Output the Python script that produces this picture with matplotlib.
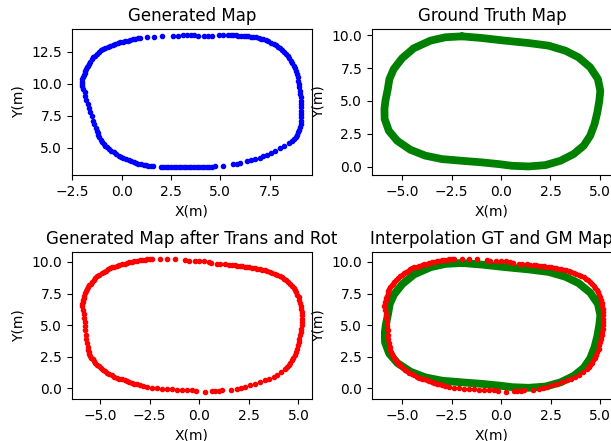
import numpy as np
import matplotlib
matplotlib.use("Agg")
import matplotlib.pyplot as plt

# Generated map (blue)
gm_x = [0.94, 1.28, 1.66, 2.04, 2.59, 2.88, 3.10, 3.30, 3.51, 3.69, 3.89, 4.15, 4.37, 4.60, 4.91, 5.16, 5.38,
        5.52, 5.67, 5.80, 5.92, 6.05, 6.18, 6.30, 6.43, 6.55, 6.68, 6.81, 6.94, 7.06, 7.19, 7.31, 7.44, 7.57,
        7.70, 7.81, 7.92, 8.02, 8.12, 8.22, 8.32, 8.41, 8.49, 8.58, 8.66, 8.73, 8.79, 8.84, 8.89, 8.93, 8.96,
        8.98, 8.99, 9.02, 9.05, 9.07, 9.08, 9.09, 9.10, 9.10, 9.10, 9.09, 9.08, 9.07, 9.05, 9.01, 8.96, 8.90,
        8.83, 8.75, 8.66,
        8.46, 8.25, 8.03, 7.78, 7.58, 7.36, 7.19, 7.02, 6.77, 6.56, 6.34, 6.01, 5.84, 5.62, 5.16,
        4.71, 4.58, 4.45, 4.32, 4.19, 4.06, 3.93, 3.80, 3.67, 3.54, 3.41, 3.28, 3.15, 3.02, 2.89, 2.76, 2.63,
        2.50, 2.37, 2.24, 2.12, 2.00,
        1.61, 1.48, 1.36, 1.23, 1.11, 0.98, 0.85, 0.72, 0.60, 0.47, 0.35, 0.22, 0.09, -0.04, -0.16, -0.29,
        -0.41, -0.52, -0.63, -0.74, -0.84, -0.92, -1.00, -1.07, -1.14, -1.18, -1.22, -1.27, -1.31, -1.38,
        -1.43, -1.51, -1.60, -1.65, -1.71, -1.80, -1.85, -1.88, -1.98, -2.02, -2.02, -2.02, -1.99, -1.97,
        -1.92, -1.88, -1.85, -1.82, -1.76, -1.71, -1.66, -1.60, -1.52, -1.43, -1.35, -1.26, -1.15, -1.04,
        -0.94, -0.84, -0.71, -0.58, -0.46, -0.33, -0.20, -0.08, 0.05, 0.18, 0.30, 0.43, 0.55, 0.68, 0.81]
gm_y = [13.57, 13.62, 13.67, 13.70, 13.75, 13.75, 13.78, 13.78, 13.78, 13.78, 13.75, 13.75, 13.75, 13.75, 13.78, 13.78, 13.78,
        13.78, 13.78, 13.77, 13.75, 13.74, 13.72, 13.71, 13.70, 13.68, 13.65, 13.61, 13.57, 13.52, 13.46, 13.39, 13.31, 13.21,
        13.10, 13.00, 12.89, 12.78, 12.66, 12.50, 12.32, 12.15, 11.98, 11.80, 11.61, 11.40, 11.20, 10.98, 10.75, 10.50, 10.23,
        9.97, 9.71, 9.45, 9.19, 8.93, 8.67, 8.41, 8.15, 7.89, 7.63, 7.37, 7.11, 6.85, 6.59, 6.40, 6.20, 6.00,
        5.81, 5.66, 5.52,
        5.36, 5.16, 4.95, 4.74, 4.56, 4.43, 4.32, 4.22, 4.11, 4.01, 3.93, 3.80, 3.75, 3.70, 3.59,
        3.54, 3.52, 3.51, 3.50, 3.49, 3.49, 3.49, 3.49, 3.50, 3.51, 3.51, 3.50, 3.49, 3.49, 3.49, 3.49, 3.49,
        3.49, 3.49, 3.50, 3.50, 3.51,
        3.54, 3.56, 3.59, 3.63, 3.67, 3.71, 3.75, 3.81, 3.88, 3.94, 4.01, 4.09, 4.17, 4.27, 4.37, 4.50,
        4.63, 4.76, 4.90, 5.03, 5.16, 5.31, 5.47, 5.64, 5.81, 5.98, 6.15, 6.33, 6.51, 6.85,
        7.11, 7.45, 7.76, 8.07, 8.41, 8.75, 9.06, 9.32, 9.58, 9.84, 10.00, 10.16, 10.33, 10.49,
        10.66, 10.83, 10.99, 11.15, 11.28, 11.41, 11.57, 11.72, 11.89, 12.06, 12.19, 12.32, 12.46, 12.60,
        12.70, 12.79, 12.88, 12.97, 13.05, 13.12, 13.18, 13.23, 13.28, 13.33, 13.37, 13.41, 13.45, 13.49, 13.53]

# Ground truth map (green), centre line of the band
gt_x = [-1.97, -0.96, 0.22, 1.40, 2.41, 3.25, 3.92, 4.51, 4.90, 5.02, 4.97, 4.87, 4.73, 4.51, 4.18, 3.67,
        3.00, 2.24, 1.40, 0.56, -0.12, -0.96, -1.97, -2.98, -3.82, -4.58, -5.25, -5.67, -5.88, -5.89,
        -5.84, -5.72, -5.64, -5.42, -5.00, -4.41, -3.57, -2.81, -1.97]
gt_y = [9.92, 9.79, 9.59, 9.41, 9.21, 8.83, 8.32, 7.56, 6.67, 5.78, 5.02, 4.13, 3.25, 2.36, 1.60, 0.96,
        0.45, 0.12, 0.02, 0.07, 0.20, 0.33, 0.45, 0.58, 0.84, 1.29, 1.98, 2.74, 3.63, 4.39,
        5.02, 5.91, 6.67, 7.43, 8.25, 9.01, 9.59, 9.85, 9.92]

# Generated map after translation and rotation (red)
tr_x = [-5.92, -5.90, -5.88, -5.85, -5.83, -5.79, -5.75, -5.71, -5.66, -5.61, -5.55, -5.48, -5.41, -5.33,
        -5.24, -5.14, -5.04, -4.93, -4.82, -4.71, -4.60, -4.50, -4.40, -4.28, -4.15, -4.03, -3.90, -3.77,
        -3.65, -3.52, -3.39, -3.27, -3.14, -3.01, -2.89, -2.76, -2.64, -2.51, -2.39,
        -1.97, -1.63, -1.21, -0.71, -0.54, -0.24, -0.03, 0.22, 0.47, 0.61, 0.89, 1.06, 1.31,
        1.48, 1.65, 1.78, 1.90, 2.03, 2.15, 2.28, 2.41, 2.53, 2.66, 2.79, 2.91, 3.04, 3.16, 3.29, 3.41,
        3.54, 3.67, 3.80, 3.92, 4.05, 4.17, 4.28, 4.39, 4.49, 4.59, 4.68, 4.76, 4.83, 4.89, 4.95, 5.01,
        5.05, 5.09, 5.12, 5.14, 5.16, 5.18, 5.18, 5.18, 5.16, 5.14, 5.12, 5.09, 5.05, 5.01, 4.97, 4.93,
        4.87, 4.81, 4.74, 4.67, 4.59, 4.51, 4.43, 4.34,
        4.14, 3.92, 3.75, 3.53, 3.33, 3.08, 2.83, 2.57, 2.32, 2.12, 1.90, 1.62, 1.14, 0.98, 0.78, 0.64,
        0.27, -0.17, -0.37, -0.62, -0.87, -1.13, -1.38, -1.63, -1.88, -2.13, -2.39, -2.64, -2.86,
        -3.00, -3.14, -3.27, -3.39, -3.52, -3.65, -3.77, -3.90, -4.03, -4.15, -4.28, -4.40, -4.53, -4.66,
        -4.77, -4.87, -4.98, -5.08, -5.16, -5.24, -5.31, -5.38, -5.44, -5.50, -5.54, -5.58, -5.61, -5.63,
        -5.66, -5.71, -5.71, -5.75, -5.78, -5.78, -5.81, -5.81, -5.87]
tr_y = [6.50, 6.66, 6.82, 6.98, 7.14, 7.32, 7.51, 7.67, 7.83, 7.98, 8.14, 8.28, 8.41, 8.57,
        8.73, 8.86, 8.99, 9.10, 9.20, 9.31, 9.41, 9.49, 9.57, 9.64, 9.71, 9.76, 9.81, 9.87,
        9.92, 9.96, 10.00, 10.04, 10.08, 10.12, 10.16, 10.19, 10.21, 10.24, 10.26,
        10.26, 10.23, 10.21, 10.13, 10.10, 10.10, 10.08, 10.05, 10.00, 9.94, 9.86, 9.84, 9.81,
        9.78, 9.76, 9.73, 9.71, 9.68, 9.65, 9.62, 9.60, 9.57, 9.55, 9.51, 9.47, 9.43, 9.39, 9.34, 9.28,
        9.22, 9.15, 9.07, 8.99, 8.89, 8.78, 8.66, 8.54, 8.40, 8.25, 8.09, 7.93, 7.78, 7.62, 7.42, 7.22,
        7.00, 6.77, 6.53, 6.29, 6.03, 5.76, 5.50, 5.23, 4.97, 4.71, 4.45, 4.18, 3.92, 3.65, 3.39, 3.12,
        2.86, 2.59, 2.39, 2.19, 2.00, 1.80, 1.67, 1.53,
        1.27, 1.06, 0.90, 0.74, 0.61, 0.47, 0.34, 0.21, 0.08, 0.00, -0.06, -0.14, -0.19, -0.22, -0.24, -0.27,
        -0.29, -0.22, -0.16, -0.14, -0.14, -0.14, -0.11, -0.08, -0.06, -0.03, 0.00, 0.08, 0.16,
        0.22, 0.29, 0.36, 0.42, 0.49, 0.55, 0.62, 0.68, 0.75, 0.82, 0.91, 1.00, 1.10, 1.21,
        1.33, 1.45, 1.59, 1.72, 1.85, 1.98, 2.12, 2.27, 2.40, 2.54, 2.70, 2.85, 3.05, 3.25,
        3.59, 3.91, 4.23, 4.57, 4.92, 5.23, 5.58, 5.90, 6.16]

fig = plt.figure(figsize=(6.11, 4.41), dpi=100)

ax1 = fig.add_axes([0.1178, 0.6032, 0.3928, 0.3311])
ax2 = fig.add_axes([0.6088, 0.6032, 0.3928, 0.3311])
ax3 = fig.add_axes([0.1178, 0.0952, 0.3928, 0.3333])
ax4 = fig.add_axes([0.6088, 0.0952, 0.3928, 0.3333])

ax1.plot(gm_x, gm_y, 'b.', markersize=6)
ax1.set_xlim(-2.52, 9.65)
ax1.set_ylim(2.87, 14.27)
ax1.set_title('Generated Map')

ax2.plot(gt_x, gt_y, color='g', linewidth=5.6, solid_joinstyle='round', solid_capstyle='round')
ax2.set_xlim(-6.52, 5.61)
ax2.set_ylim(-0.63, 10.48)
ax2.set_title('Ground Truth Map')

ax3.plot(tr_x, tr_y, 'r.', markersize=6)
ax3.set_xlim(-6.42, 5.68)
ax3.set_ylim(-0.87, 10.79)
ax3.set_title('Generated Map after Trans and Rot')

ax4.plot(gt_x, gt_y, color='g', linewidth=5.6, solid_joinstyle='round', solid_capstyle='round')
ax4.plot(tr_x, tr_y, 'r.', markersize=6)
ax4.set_xlim(-6.54, 5.61)
ax4.set_ylim(-0.87, 10.79)
ax4.set_title('Interpolation GT and GM Map')

for ax in [ax1, ax2, ax3, ax4]:
    ax.set_xlabel('X(m)')
    ax.set_ylabel('Y(m)')

fig.savefig('out.png', dpi=100)
